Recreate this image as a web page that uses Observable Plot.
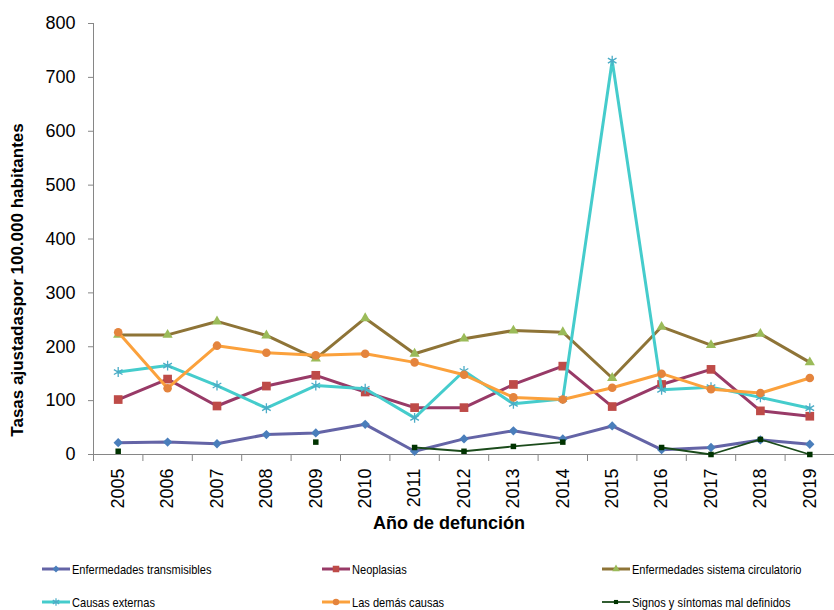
<!DOCTYPE html>
<html><head><meta charset="utf-8">
<script src="https://cdn.jsdelivr.net/npm/d3@7"></script>
<script src="https://cdn.jsdelivr.net/npm/@observablehq/plot@0.6"></script>
<style>
body{margin:0;background:#fff;font-family:"Liberation Sans",Arial,sans-serif}
#wrap{position:relative;width:834px;height:610px;overflow:hidden;background:#fff}
#legend{position:absolute;left:0;top:545px;width:834px;height:65px}
.item{position:absolute;display:flex;align-items:center;font-family:"Liberation Sans",Arial,sans-serif;font-size:13px;color:#000;white-space:nowrap;height:14px}
.item svg{display:block;margin-right:2px}
.item span{display:inline-block;transform:scaleX(0.85);transform-origin:left center}
</style></head>
<body><div id="wrap"><div id="chart"></div><div id="legend"></div></div>
<script>
const years = [2005,2006,2007,2008,2009,2010,2011,2012,2013,2014,2015,2016,2017,2018,2019];
const yTicks = [0,100,200,300,400,500,600,700,800];
const seriesNames = ["Enfermedades transmisibles","Neoplasias","Enfermedades sistema circulatorio","Causas externas","Las demás causas","Signos y síntomas mal definidos"];
const transmisibles = [22,23,20,37,40,56,6,29,44,29,53,9,13,27,19];
const neoplasias   = [102,140,90,127,147,116,87,87,130,164,89,130,158,81,71];
const circulatorio = [222,222,247,221,178,253,187,215,230,227,142,237,203,224,171];
const externas     = [153,165,128,86,128,122,68,155,94,103,731,120,125,106,86];
const demas        = [227,123,202,189,184,187,171,148,106,102,124,150,121,114,142];
const signos       = [6,null,null,null,23,null,13,6,15,23,null,13,0,28,0];
const yTitle = "Tasas ajustadaspor 100.000 habitantes";
const xTitle = "Año de defunción";

const styles = [
  {line:"#6464A6", marker:"#4A7EBB", symbol:"diamond2", r:4.2, sw:3},
  {line:"#983A67", marker:"#BE4B48", symbol:"square", r:4.9, sw:3},
  {line:"#8E7437", marker:"#9BBB59", symbol:"triangle", r:3.8, sw:3},
  {line:"#45CCCC", marker:"#4BACC6", symbol:"asterisk", r:4.7, sw:3, stroked:true},
  {line:"#FBA13C", marker:"#E4843D", symbol:"circle", r:4.3, sw:3},
  {line:"#1B4B1B", marker:"#003300", symbol:"square", r:3.1, sw:1.8}
];
const allValues = [transmisibles, neoplasias, circulatorio, externas, demas, signos];
const boundaries = years.map(y => y - 0.5).concat([years[years.length-1] + 0.5]);

const seriesMarks = [];
allValues.forEach((vals, k) => {
  const st = styles[k];
  const data = years.map((yr, i) => ({year: yr, value: vals[i] == null ? NaN : vals[i]}));
  seriesMarks.push(Plot.line(data, {x:"year", y:"value", stroke:st.line, strokeWidth:st.sw, strokeLinejoin:"round"}));
  const pts = data.filter(d => !isNaN(d.value));
  if (st.stroked) {
    seriesMarks.push(Plot.dot(pts, {x:"year", y:"value", symbol:st.symbol, r:st.r, stroke:st.marker, strokeWidth:1.3, fill:"none"}));
  } else {
    seriesMarks.push(Plot.dot(pts, {x:"year", y:"value", symbol:st.symbol, r:st.r, fill:st.marker, stroke:"none"}));
  }
});

const chart = Plot.plot({
  width: 834, height: 545,
  marginTop: 23, marginBottom: 91, marginLeft: 93, marginRight: 0,
  style: {fontFamily: "'Liberation Sans', Arial, sans-serif", fontSize: "18px", color: "#000", background: "#fff"},
  x: {type: "linear", domain: [2004.5, 2019.5]},
  y: {domain: [0, 800]},
  marks: [
    Plot.axisY({ticks: yTicks, tickSize: 5, tickPadding: 13, stroke: "#868686", fill: "#000", label: null, fontSize: 18}),
    Plot.axisX({ticks: boundaries, tickSize: 7, tickFormat: () => "", stroke: "#868686", label: null}),
    Plot.axisX({ticks: years, tickSize: 0, tickPadding: 14, tickRotate: -90, tickFormat: d => String(d), fill: "#000", label: null, fontSize: 18}),
    Plot.ruleX([2004.5], {stroke: "#868686"}),
    Plot.ruleY([0], {stroke: "#868686"}),
    ...seriesMarks,
    Plot.text([yTitle], {frameAnchor: "left", textAnchor: "middle", lineAnchor: "middle", rotate: -90, dx: -76, dy: 41, fontWeight: "bold", fontSize: 17, fill: "#000"}),
    Plot.text([xTitle], {frameAnchor: "bottom", textAnchor: "middle", lineAnchor: "middle", dx: -15, dy: 69, fontWeight: "bold", fontSize: 18, fill: "#000"})
  ]
});
document.getElementById("chart").appendChild(chart);

// legend
const legend = d3.select("#legend");
const colX = [42, 322, 602];
const rowY = [24, 57];
const symMap = {diamond2: d3.symbolDiamond2, square: d3.symbolSquare, triangle: d3.symbolTriangle, asterisk: d3.symbolAsterisk, circle: d3.symbolCircle};
seriesNames.forEach((name, k) => {
  const st = styles[k];
  const item = legend.append("div").attr("class", "item")
    .style("left", colX[k % 3] + "px").style("top", (rowY[Math.floor(k / 3)] - 7) + "px");
  const svg = item.append("svg").attr("width", 28).attr("height", 14);
  svg.append("line").attr("x1", 0).attr("x2", 28).attr("y1", 7).attr("y2", 7)
    .attr("stroke", st.line).attr("stroke-width", st.sw);
  const size = Math.PI * Math.pow(st.r * 0.75, 2);
  const p = svg.append("path").attr("d", d3.symbol(symMap[st.symbol], size)()).attr("transform", "translate(14,7)");
  if (st.stroked) p.attr("fill", "none").attr("stroke", st.marker).attr("stroke-width", 1.2);
  else p.attr("fill", st.marker);
  item.append("span").text(name);
});
</script></body></html>
